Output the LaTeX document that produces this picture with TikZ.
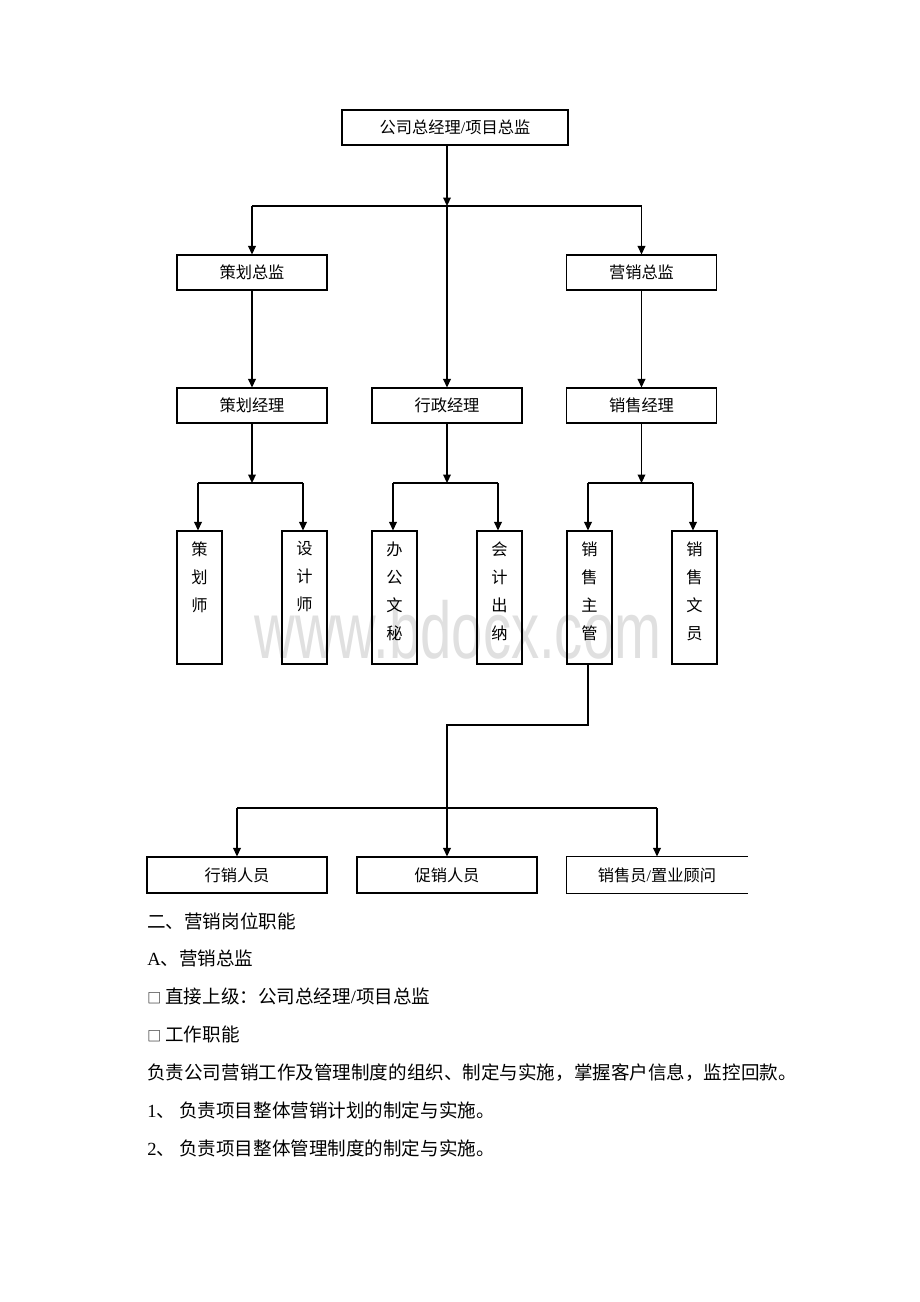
\documentclass[tikz,border=0pt]{standalone}
\usepackage{fontspec}
\setmainfont{Noto Sans CJK SC}
\newfontfamily\latin{Liberation Serif}
\newfontfamily\wmfont{Liberation Sans}
\usepackage{tikz}
\usetikzlibrary{arrows.meta, positioning, calc}
\def\px{0.6467pt}
\newcommand{\missbox}{{\fontsize{9}{9}\selectfont □}}
\tikzstyle{arrow} = [->,>={Triangle[length=5.5pt,width=5pt]}]
\tikzset{
  box/.style={draw, line width=0.7pt, minimum width=150*\px, minimum height=35*\px, inner sep=0pt, font=\fontsize{10.5}{12}\selectfont},
  vbox/.style={draw, line width=0.7pt, minimum width=45*\px, minimum height=133*\px, inner sep=0pt},
  vtext/.style={below, align=center, inner sep=7pt, font=\fontsize{10.5}{18.1}\selectfont},
  body/.style={anchor=base west, inner sep=0pt, font=\fontsize{12}{14}\selectfont},
  link/.style={line width=0.8pt}
}
\begin{document}
\begin{tikzpicture}[x=\px, y=-\px]
\useasboundingbox (0,0) rectangle (920,1302);

% Watermark
\node[text=black!12, font=\wmfont\fontsize{52}{52}\selectfont, xscale=0.7] (wm) at (458,630) {www.bdocx.com};

% Top level
\node[box, minimum width=226*\px] (gm) at (455,127.5) {公司总经理{\latin/}项目总监};

% Second level
\node[box] (chzj) at (252,272.5) {策划总监};
\node[box] (yxzj) at (641.5,272.5) {营销总监};

% Third level
\node[box] (chjl) at (252,405.5) {策划经理};
\node[box] (xzjl) at (447,405.5) {行政经理};
\node[box] (xsjl) at (641.5,405.5) {销售经理};

% Staff
\node[vbox, label={[vtext]north:策\\划\\师}] (chs) at (199.5,597.5) {};
\node[vbox, label={[vtext]north:设\\计\\师}] (sjs) at (304.5,597.5) {};
\node[vbox, label={[vtext]north:办\\公\\文\\秘}] (bgwm) at (394.5,597.5) {};
\node[vbox, label={[vtext]north:会\\计\\出\\纳}] (kjcn) at (499.5,597.5) {};
\node[vbox, label={[vtext]north:销\\售\\主\\管}] (xszg) at (589.5,597.5) {};
\node[vbox, label={[vtext]north:销\\售\\文\\员}] (xswy) at (694.5,597.5) {};

% Bottom level
\node[box, minimum width=180*\px, minimum height=36*\px] (xxry) at (237,875) {行销人员};
\node[box, minimum width=180*\px, minimum height=36*\px] (cxry) at (447,875) {促销人员};
\node[box, draw=none, minimum width=180*\px, minimum height=36*\px] (xsy) at (657,875) {销售员{\latin/}置业顾问};
\draw[line width=0.7pt] (xsy.north east) -- (xsy.north west) -- (xsy.south west) -- (xsy.south east);

% Junctions
\coordinate (j0) at (447,206);
\coordinate (j1) at (252,483);
\coordinate (j2) at (447,483);
\coordinate (j3) at (641.5,483);
\coordinate (j4) at (588,725);
\coordinate (j5) at (447,808);

% Connectors
\draw[link, arrow] (gm.south -| j0) -- (j0);
\draw[link] (chzj.north |- j0) -- (yxzj.north |- j0);
\draw[link, arrow] (chzj.north |- j0) -- (chzj.north);
\draw[link, arrow] (yxzj.north |- j0) -- (yxzj.north);
\draw[link, arrow] (j0) -- (j0 |- xzjl.north);
\draw[link, arrow] (chzj) -- (chjl);
\draw[link, arrow] (yxzj) -- (xsjl);

\draw[link, arrow] (chjl.south) -- (j1);
\draw[link, arrow] (xzjl.south) -- (j2);
\draw[link, arrow] (xsjl.south) -- (j3);
\foreach \a/\b in {chs/sjs, bgwm/kjcn, xszg/xswy} {
  \draw[link] ([xshift=-1.5*\px]\a.north |- j1) -- ([xshift=-1.5*\px]\b.north |- j1);
  \draw[link, arrow] ([xshift=-1.5*\px]\a.north |- j1) -- ([xshift=-1.5*\px]\a.north);
  \draw[link, arrow] ([xshift=-1.5*\px]\b.north |- j1) -- ([xshift=-1.5*\px]\b.north);
}

\draw[link, arrow] (xszg.south -| j4) -- (j4) -- (j4 -| j5) -- (cxry.north);
\draw[link] (xxry.north |- j5) -- (xsy.north |- j5);
\draw[link, arrow] (xxry.north |- j5) -- (xxry.north);
\draw[link, arrow] (xsy.north |- j5) -- (xsy.north);

% Text below
\node[body] (t1) at (147,928) {二、营销岗位职能};
\node[body] (t2) at (147,965) {{\latin A}、营销总监};
\node[body] (t3) at (147,1003) {\missbox\ 直接上级：公司总经理{\latin/}项目总监};
\node[body] (t4) at (147,1041) {\missbox\ 工作职能};
\node[body] (t5) at (147,1079) {负责公司营销工作及管理制度的组织、制定与实施，掌握客户信息，监控回款。};
\node[body] (t6) at (147,1117) {{\latin 1}、 负责项目整体营销计划的制定与实施。};
\node[body] (t7) at (147,1155) {{\latin 2}、 负责项目整体管理制度的制定与实施。};
\end{tikzpicture}
\end{document}
